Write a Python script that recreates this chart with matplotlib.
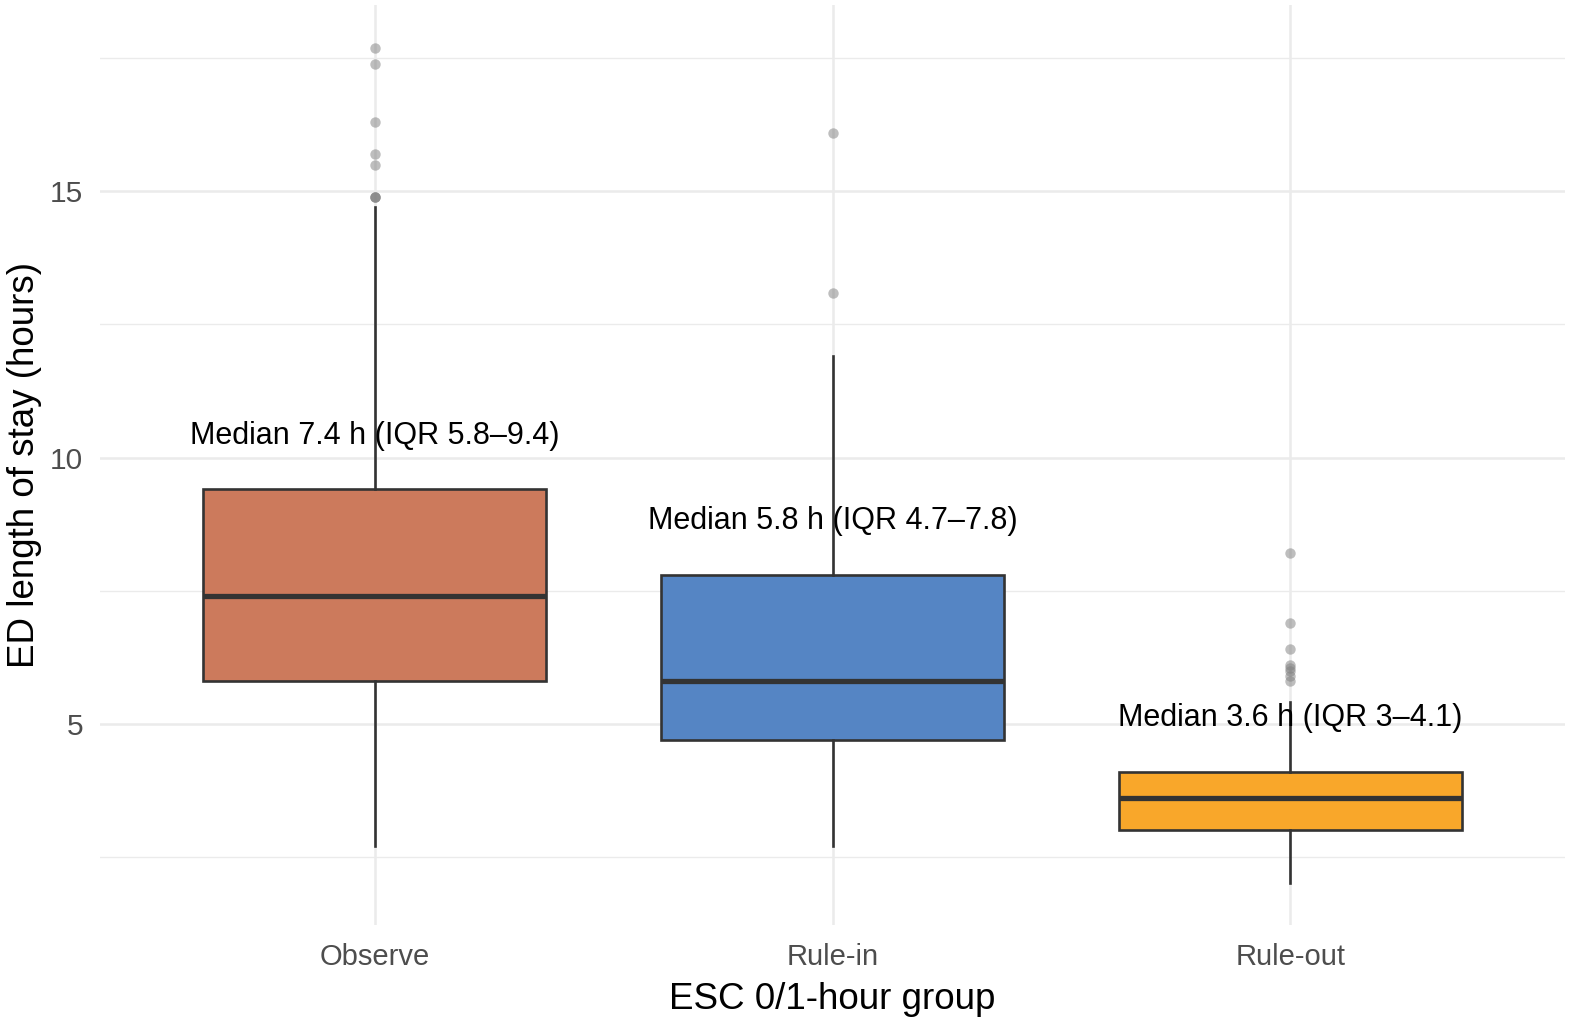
import matplotlib
matplotlib.use("Agg")
import matplotlib.pyplot as plt
from matplotlib.ticker import MultipleLocator

plt.rcParams["font.family"] = ["Liberation Sans", "DejaVu Sans"]

groups = ["Observe", "Rule-in", "Rule-out"]
q1 = [5.8, 4.7, 3.0]
medians = [7.4, 5.8, 3.6]
q3 = [9.4, 7.8, 4.1]
whisker_low = [2.7, 2.7, 2.0]
whisker_high = [14.7, 11.9, 5.4]
outliers = [
    [17.7, 17.4, 16.3, 15.7, 15.5, 14.9, 14.9, 14.9],
    [16.1, 13.1],
    [8.2, 6.9, 6.4, 6.1, 6.05, 6.0, 5.9, 5.8],
]
labels = [
    "Median 7.4 h (IQR 5.8\u20139.4)",
    "Median 5.8 h (IQR 4.7\u20137.8)",
    "Median 3.6 h (IQR 3\u20134.1)",
]
colors = ["#CC7A5C", "#5585C4", "#F9A72A"]

fig = plt.figure(figsize=(15.94, 10.35), dpi=100)
ax = fig.add_axes([100 / 1594, 110 / 1035, 1465 / 1594, 920 / 1035])

stats = []
for i, g in enumerate(groups):
    stats.append({
        "label": g,
        "q1": q1[i],
        "med": medians[i],
        "q3": q3[i],
        "whislo": whisker_low[i],
        "whishi": whisker_high[i],
        "fliers": outliers[i],
    })

positions = list(range(1, len(groups) + 1))
bp = ax.bxp(
    stats,
    positions=positions,
    widths=0.75,
    patch_artist=True,
    showcaps=False,
    boxprops=dict(edgecolor="#333333", linewidth=1.9),
    medianprops=dict(color="#333333", linewidth=3.8, solid_capstyle="butt"),
    whiskerprops=dict(color="#333333", linewidth=1.9),
    flierprops=dict(marker="o", markersize=7.5, markerfacecolor="#7F7F7F",
                    markeredgecolor="none", alpha=0.5),
    zorder=3,
)
for patch, c in zip(bp["boxes"], colors):
    patch.set_facecolor(c)

for i, txt in enumerate(labels):
    ax.text(positions[i], q3[i] + 1.0, txt, ha="center", va="center",
            fontsize=22, color="black", zorder=5)

ax.set_xlim(0.4, 3.6)
ax.set_ylim(1.22, 18.5)
ax.yaxis.set_major_locator(MultipleLocator(5))
ax.yaxis.set_minor_locator(MultipleLocator(2.5))
ax.set_xticks(positions)
ax.set_xticklabels(groups)

ax.grid(True, which="major", color="#EBEBEB", linewidth=1.8, zorder=0)
ax.grid(True, which="minor", axis="y", color="#EBEBEB", linewidth=1.0, zorder=0)
ax.set_axisbelow(True)
for s in ax.spines.values():
    s.set_visible(False)
ax.tick_params(which="both", length=0)
ax.tick_params(axis="x", labelsize=21, labelcolor="#4D4D4D", pad=13)
ax.tick_params(axis="y", labelsize=21.5, labelcolor="#4D4D4D", pad=12)

ax.set_xlabel("ESC 0/1-hour group", fontsize=26.5, labelpad=8)
ax.set_ylabel("ED length of stay (hours)", fontsize=26.5, labelpad=6)

fig.savefig("out.png", dpi=100)
plt.close(fig)
